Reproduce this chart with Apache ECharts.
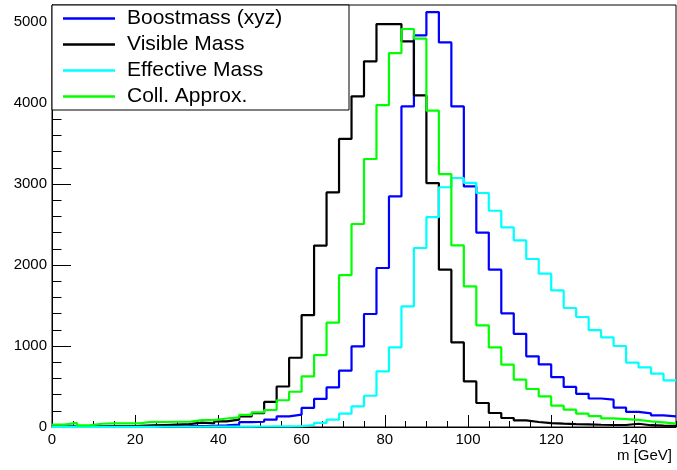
<!DOCTYPE html>
<html>
<head>
<meta charset="utf-8">
<script src="https://cdn.jsdelivr.net/npm/echarts@6/dist/echarts.min.js"></script>
<style>
html,body{margin:0;padding:0;background:#fff;}
#chart{width:677px;height:470px;}
</style>
</head>
<body>
<div id="chart"></div>
<script>
// Bin edges (GeV), 3 GeV bins from 0 to 150
const binEdges = [0,3,6,9,12,15,18,21,24,27,30,33,36,39,42,45,48,51,54,57,60,63,66,69,72,75,78,81,84,87,90,93,96,99,102,105,108,111,114,117,120,123,126,129,132,135,138,141,144,147,150];

const seriesNames = ['Boostmass (xyz)', 'Visible Mass', 'Effective Mass', 'Coll. Approx.'];

const boostmass = [4,4,5,5,6,6,7,8,8,9,10,12,15,20,30,60,65,90,131,152,235,346,489,695,995,1395,1963,2847,3958,4835,5123,4748,3958,2970,2400,1942,1403,1150,872,773,615,495,410,352,337,240,187,168,143,131];
const visibleMass = [5,5,8,8,10,12,15,20,25,30,35,55,45,70,90,130,170,310,500,855,1380,2240,2896,3556,4082,4514,4975,4975,4760,4094,3012,1942,1044,563,296,173,111,82,62,49,42,36,32,28,25,25,40,22,18,15];
const effectiveMass = [2,2,2,2,2,2,2,2,3,3,3,3,4,4,5,5,6,8,8,10,25,50,90,165,254,386,686,983,1489,2210,2590,2960,3074,3015,2889,2670,2464,2304,2074,1893,1686,1469,1358,1195,1106,1000,795,735,658,575];
const collApprox = [30,50,20,40,45,45,45,65,62,65,65,85,85,105,120,150,180,210,330,435,625,888,1288,1875,2506,3309,3975,4617,4914,4794,3905,3123,2242,1736,1255,983,769,584,469,378,263,214,165,135,106,98,88,70,57,41];

const colors = ['#0000ff', '#000000', '#00ffff', '#00ff00'];
const yTicks = [0,1000,2000,3000,4000,5000];
const xTicks = [0,20,40,60,80,100,120,140];

function histData(vals){
  const d = vals.map((v,i)=>[binEdges[i], v]);
  d.push([binEdges[binEdges.length-1], vals[vals.length-1]]);
  return d;
}

const FONT = '"Liberation Sans", Arial, Helvetica, sans-serif';
const chart = echarts.init(document.getElementById('chart'), null, {renderer:'canvas'});

const allVals = [boostmass, visibleMass, effectiveMass, collApprox];

chart.setOption({
  animation: false,
  backgroundColor: '#ffffff',
  grid: {left: 52, right: 1, top: 5, bottom: 43, show: true, borderColor: '#000', borderWidth: 1, backgroundColor: 'transparent'},
  xAxis: [{
    type: 'value', min: 0, max: 150, interval: 20, position: 'bottom',
    name: 'm [GeV]', nameLocation: 'end', nameGap: -4,
    nameTextStyle: {fontFamily: FONT, fontSize: 15, color: '#000', align: 'right', verticalAlign: 'top', padding: [21,0,0,0]},
    axisLine: {show: true, lineStyle: {color: '#000', width: 1}},
    axisTick: {show: true, inside: true, length: 12, lineStyle: {color: '#000'}},
    axisLabel: {fontFamily: FONT, fontSize: 15, color: '#000', margin: 5, showMaxLabel: false,
      formatter: v => xTicks.indexOf(v) >= 0 ? String(v) : ''},
    splitLine: {show: false}
  }, {
    type: 'value', min: 0, max: 150, interval: 5, position: 'bottom', offset: 0,
    axisLine: {show: false},
    axisTick: {show: true, inside: true, length: 6, lineStyle: {color: '#000'}},
    axisLabel: {show: false},
    splitLine: {show: false}
  }],
  yAxis: [{
    type: 'value', min: 0, max: 5210, interval: 1000, position: 'left',
    axisLine: {show: true, lineStyle: {color: '#000', width: 1}},
    axisTick: {show: true, inside: true, length: 19, lineStyle: {color: '#000'}},
    minorTick: {show: true, splitNumber: 5, length: 9.5, lineStyle: {color: '#000'}},
    axisLabel: {fontFamily: FONT, fontSize: 15, color: '#000', margin: 5, showMaxLabel: false,
      formatter: v => yTicks.indexOf(v) >= 0 ? String(v) : ''},
    splitLine: {show: false}
  }],
  legend: {
    orient: 'vertical', left: 63, top: 8, padding: 0,
    itemWidth: 52, itemHeight: 14, itemGap: 5,
    icon: 'path://M0,0 L52,0 L52,2.4 L0,2.4 Z',
    data: seriesNames,
    textStyle: {fontFamily: FONT, fontSize: 21, color: '#000', lineHeight: 21, padding: [0,0,0,7]},
    z: 10
  },
  graphic: [{
    type: 'rect', z: 5,
    shape: {x: 52, y: 5, width: 297, height: 105},
    style: {fill: '#ffffff', stroke: '#000000', lineWidth: 1}
  }],
  series: seriesNames.map((name, i) => ({
    name: name, type: 'line', step: 'end', symbol: 'none', showSymbol: false,
    xAxisIndex: 0, yAxisIndex: 0,
    data: histData(allVals[i]),
    lineStyle: {color: colors[i], width: 2.2},
    itemStyle: {color: colors[i]},
    z: 2 + i * 0.1
  }))
});
</script>
</body>
</html>
